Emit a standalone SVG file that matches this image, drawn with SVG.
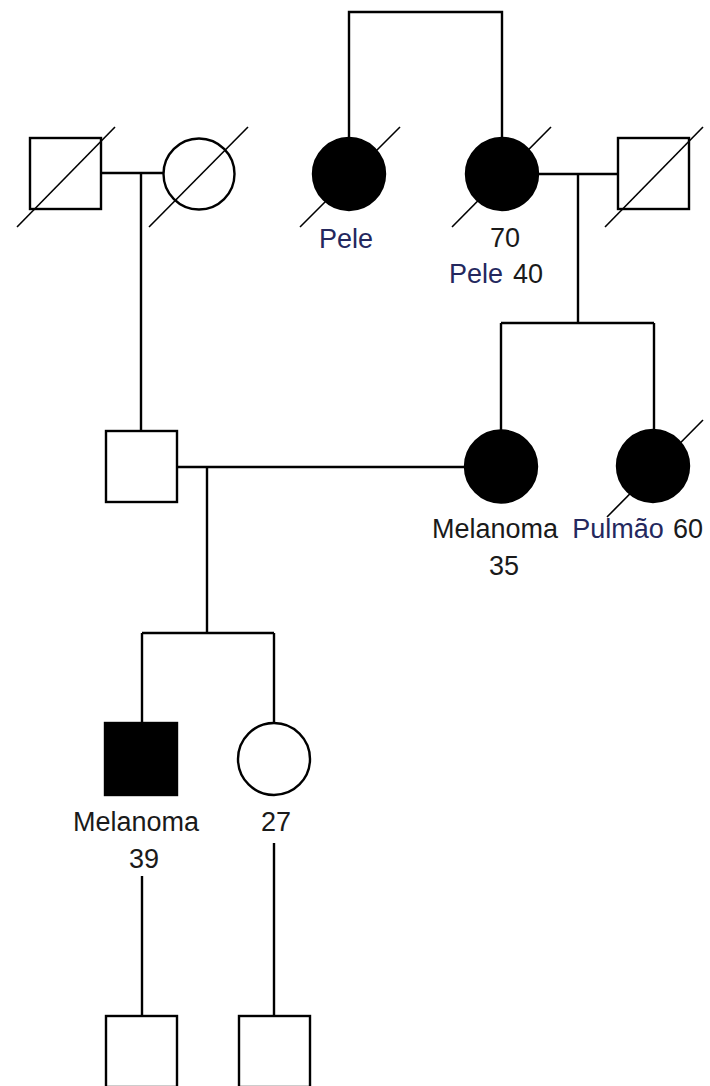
<svg xmlns="http://www.w3.org/2000/svg" width="710" height="1086" viewBox="0 0 710 1086">
  <style>
    .sym { stroke: #000; stroke-width: 2.4; fill: #fff; }
    .aff { fill: #000; }
    .dead { stroke: #000; stroke-width: 1.6; }
    .link { stroke: #000; stroke-width: 2.4; fill: none; }
    text { font-family: "Liberation Sans", Arial, sans-serif; font-size: 27px; fill: #1a1a1a; text-anchor: middle; }
    .dx { fill: #24285e; }
  </style>
  <rect width="710" height="1086" fill="#fff"/>

  <!-- connectors: couples, sibships, descent lines -->
  <g id="connectors">
    <path class="link" d="M101 173 H163 M141 173 V432"/>
    <path class="link" d="M349 138 V12 H502 V138"/>
    <path class="link" d="M538 174 H618 M578 174 V323 M501 323 H654 M501 323 V430 M654 323 V430"/>
    <path class="link" d="M177 467 H465 M207 467 V633 M142 633 H274 M142 633 V723 M274 633 V723"/>
    <path class="link" d="M142 876 V1016 M274 843 V1016"/>
  </g>

  <!-- generation I -->
  <g id="gf-paternal">
    <rect class="sym" x="30" y="138" width="71" height="71"/>
    <line class="dead" x1="17" y1="227" x2="115" y2="127"/>
  </g>
  <g id="gm-paternal">
    <circle class="sym" cx="199" cy="174" r="35.5"/>
    <line class="dead" x1="149" y1="227" x2="248" y2="127"/>
  </g>
  <g id="great-aunt">
    <line class="dead" x1="300" y1="227" x2="400" y2="127"/>
    <circle class="sym aff" cx="349" cy="174" r="36"/>
    <text class="dx" x="346" y="248">Pele</text>
  </g>
  <g id="gm-maternal">
    <line class="dead" x1="452" y1="227" x2="551" y2="127"/>
    <circle class="sym aff" cx="502" cy="174" r="36"/>
    <text x="505" y="247">70</text>
    <text class="dx" x="476" y="283">Pele</text>
    <text x="528" y="283">40</text>
  </g>
  <g id="gf-maternal">
    <rect class="sym" x="618" y="138" width="71" height="71"/>
    <line class="dead" x1="605" y1="227" x2="703" y2="127"/>
  </g>

  <!-- generation II -->
  <g id="father">
    <rect class="sym" x="106" y="431" width="71" height="71"/>
  </g>
  <g id="mother">
    <circle class="sym aff" cx="501" cy="466.5" r="36"/>
    <text x="495" y="538">Melanoma</text>
    <text x="504" y="575">35</text>
  </g>
  <g id="aunt">
    <line class="dead" x1="607" y1="517" x2="703" y2="420"/>
    <circle class="sym aff" cx="653" cy="466" r="36"/>
    <text class="dx" x="618" y="538">Pulmão</text>
    <text x="688" y="538">60</text>
  </g>

  <!-- generation III -->
  <g id="proband">
    <rect class="sym aff" x="105" y="723" width="72" height="72"/>
    <text x="136" y="831">Melanoma</text>
    <text x="144" y="868">39</text>
  </g>
  <g id="sister">
    <circle class="sym" cx="274" cy="759" r="36"/>
    <text x="276" y="831">27</text>
  </g>

  <!-- generation IV -->
  <g id="son-proband">
    <rect class="sym" x="106" y="1016" width="71" height="71"/>
  </g>
  <g id="son-sister">
    <rect class="sym" x="239" y="1016" width="71" height="71"/>
  </g>
</svg>
